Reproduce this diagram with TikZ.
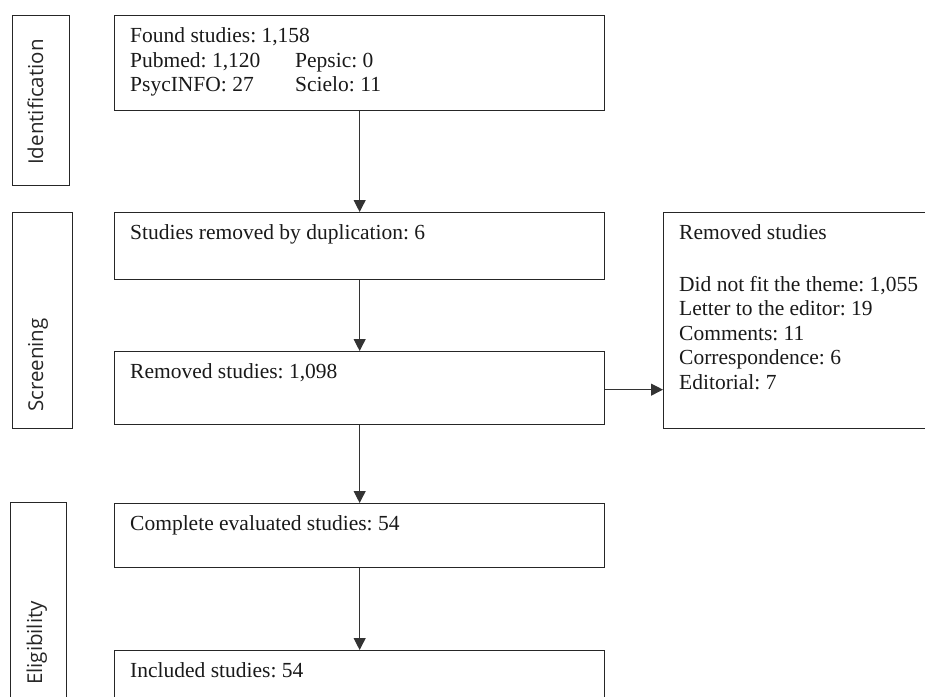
\documentclass[tikz,border=0pt]{standalone}
\usepackage{fontspec}
\setmainfont{Liberation Serif}
\newfontfamily\phasefont{Open Sans}
\usetikzlibrary{calc,arrows.meta}
\frenchspacing

\begin{document}
\begin{tikzpicture}[x=1pt,y=1pt,
  phasebox/.style={draw=black!85, line width=1.2pt, anchor=north west, inner sep=0pt},
  stagebox/.style={draw=black!85, line width=1.3pt, anchor=north west, inner sep=0pt, minimum width=490pt},
  phaselabel/.style={rotate=90, anchor=base, inner sep=0pt, font=\phasefont\fontsize{20.5}{24}\selectfont, text=black!85},
  boxtext/.style={anchor=base west, align=left, inner sep=0pt, font=\fontsize{21.5}{24.5}\selectfont, text=black!90},
  flow/.style={draw=black!80, line width=1.1pt, -{Triangle[length=12pt,width=12pt]}}]

% Fix the page size
\useasboundingbox (0,0) rectangle (925,-696);

% Text offset inside the boxes
\def\padx{16}
\def\pady{27.5}
% Line distance (multi-line texts sit on their last line)
\def\lineskp{24.5}

% Phase boxes on the left
\node[phasebox, minimum width=57pt, minimum height=170pt] (ident) at (12,-15) {};
\node[phasebox, minimum width=60pt, minimum height=216pt] (screen) at (12,-212) {};
\node[phasebox, minimum width=56pt, minimum height=290pt] (elig) at (10,-502) {};

% Phase labels
\node[phaselabel] (identlbl) at (43,-102) {Identification};
\node[phaselabel] (screenlbl) at (43,-365) {Screening};
\node[phaselabel] (eliglbl) at (42,-643) {Eligibility};

% Boxes of the main flow
\node[stagebox, minimum height=95pt] (found) at (114,-15) {};
\node[stagebox, minimum height=67pt] (dup) at (114,-212) {};
\node[stagebox, minimum height=73pt] (removed) at (114,-351) {};
\node[stagebox, minimum height=64pt] (complete) at (114,-503) {};
\node[stagebox, minimum height=70pt] (included) at (114,-650) {};

% Box of the removed studies on the right
\node[stagebox, minimum width=290pt, minimum height=216pt] (excluded) at (663,-212) {};

% Texts of the boxes
\node[boxtext] (foundtxt) at ($(found.north west)+(\padx,-\pady-2*\lineskp)$)
  {Found studies: 1,158\\
   \makebox[165pt][l]{Pubmed: 1,120}Pepsic: 0\\
   \makebox[165pt][l]{PsycINFO: 27}Scielo: 11};
\node[boxtext] (duptxt) at ($(dup.north west)+(\padx,-\pady)$) {Studies removed by duplication: 6};
\node[boxtext] (removedtxt) at ($(removed.north west)+(\padx,-\pady)$) {Removed studies: 1,098};
\node[boxtext] (completetxt) at ($(complete.north west)+(\padx,-\pady)$) {Complete evaluated studies: 54};
\node[boxtext] (includedtxt) at ($(included.north west)+(\padx,-\pady)$) {Included studies: 54};
\node[boxtext] (excludedtxt) at ($(excluded.north west)+(\padx,-\pady-5*\lineskp-27)$)
  {Removed studies\\[27pt]
   Did not fit the theme: 1,055\\
   Letter to the editor: 19\\
   Comments: 11\\
   Correspondence: 6\\
   Editorial: 7};

% Arrows
\draw[flow] (found) -- (dup);
\draw[flow] (dup) -- (removed);
\draw[flow] (removed) -- (complete);
\draw[flow] (complete) -- (included);
\draw[flow] ($(removed.east)+(0,-1.5)$) -- ($(removed.east -| excluded.west)+(0,-1.5)$);

\end{tikzpicture}
\end{document}
